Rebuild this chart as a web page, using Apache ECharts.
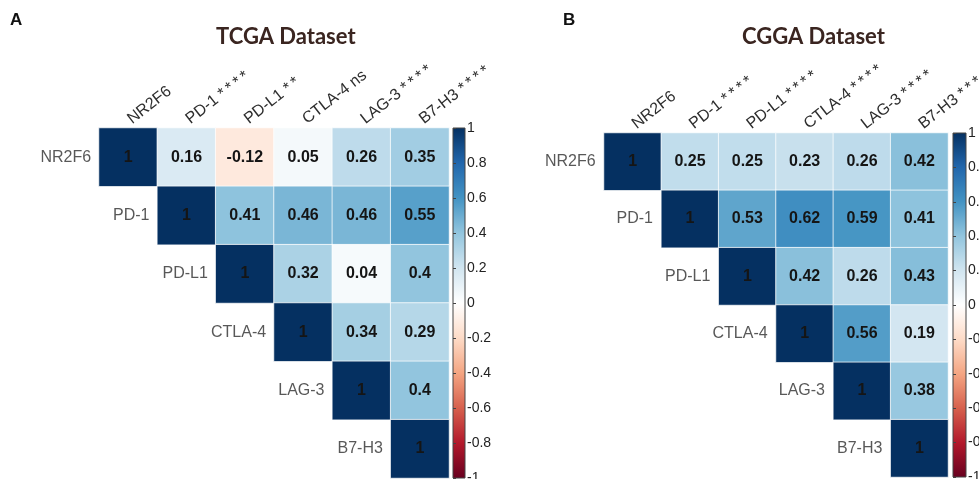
<!DOCTYPE html>
<html><head><meta charset="utf-8">
<script src="https://cdn.jsdelivr.net/npm/echarts@6/dist/echarts.min.js"></script>
<style>html,body{margin:0;padding:0;background:#fff}#c{width:979px;height:479px}</style>
</head><body><div id="c"></div>
<script>
const genes = ['NR2F6','PD-1','PD-L1','CTLA-4','LAG-3','B7-H3'];
const tcgaColLabels = ['NR2F6','PD-1 ****','PD-L1 **','CTLA-4 ns','LAG-3 ****','B7-H3 ****'];
const cggaColLabels = ['NR2F6','PD-1 ****','PD-L1 ****','CTLA-4 ****','LAG-3 ****','B7-H3 ****'];
// upper triangle: row i holds columns i..5
const tcgaRows = [
  [1, 0.16, -0.12, 0.05, 0.26, 0.35],
  [1, 0.41, 0.46, 0.46, 0.55],
  [1, 0.32, 0.04, 0.4],
  [1, 0.34, 0.29],
  [1, 0.4],
  [1]
];
const cggaRows = [
  [1, 0.25, 0.25, 0.23, 0.26, 0.42],
  [1, 0.53, 0.62, 0.59, 0.41],
  [1, 0.42, 0.26, 0.43],
  [1, 0.56, 0.19],
  [1, 0.38],
  [1]
];
const rdbu = ['#67001F','#B2182B','#D6604D','#F4A582','#FDDBC7','#FFFFFF','#D1E5F0','#92C5DE','#4393C3','#2166AC','#053061'];
const scaleMin = -1, scaleMax = 1, scaleStep = 0.2;

function toCells(rows){
  const out = [];
  rows.forEach((r,i)=>r.forEach((v,k)=>out.push([i+k, i, v])));
  return out;
}
const FONT = 'Liberation Sans, Arial, sans-serif';
const gradient = {type:'linear', x:0, y:0, x2:0, y2:1,
  colorStops: rdbu.slice().reverse().map((c,i)=>({offset:i/(rdbu.length-1), color:c}))};

const gridsPos = [
  {left:99, top:128, width:350, height:350},
  {left:604, top:133, width:344, height:344}
];
const barPos = [
  {left:453, top:128, width:12, height:350},
  {left:953, top:133, width:13, height:344}
];
const colLabelSets = [tcgaColLabels, cggaColLabels];
const rowSets = [tcgaRows, cggaRows];
const spaceStars = s => s.replace(/\*+/g, m => m.split('').join('\u2009'));

const option = {
  backgroundColor:'#fff',
  animation:false,
  title:[
    {text:'A', left:10, top:12, padding:0, textStyle:{fontFamily:FONT, fontWeight:'bold', fontSize:17, color:'#111'}},
    {text:'B', left:563, top:12, padding:0, textStyle:{fontFamily:FONT, fontWeight:'bold', fontSize:17, color:'#111'}},
    {text:'TCGA Dataset', left:216, top:26, padding:0, textStyle:{fontFamily:'Lato', fontWeight:'bold', fontSize:22, color:'#3a2520'}},
    {text:'CGGA Dataset', left:742, top:26, padding:0, textStyle:{fontFamily:'Lato', fontWeight:'bold', fontSize:22, color:'#3a2520'}}
  ],
  grid:[
    Object.assign({outerBoundsMode:'none'}, gridsPos[0]),
    Object.assign({outerBoundsMode:'none'}, gridsPos[1]),
    Object.assign({outerBoundsMode:'none', show:true, backgroundColor:gradient, borderColor:'#444', borderWidth:1}, barPos[0]),
    Object.assign({outerBoundsMode:'none', show:true, backgroundColor:gradient, borderColor:'#444', borderWidth:1}, barPos[1])
  ],
  xAxis:[0,1].map(g=>({
    type:'category', gridIndex:g, data:genes, position:'top',
    axisLine:{show:false}, axisTick:{show:false}, splitLine:{show:false},
    axisLabel:{rotate:-38, margin:-4, padding:[0,0,0,8], interval:0, verticalAlign:'bottom', fontFamily:FONT, fontSize:16, color:'#2e2e2e',
      formatter:(v,idx)=>spaceStars(colLabelSets[g][idx])}
  })).concat([2,3].map(g=>({type:'value', gridIndex:g, show:false, min:0, max:1}))),
  yAxis:[0,1].map(g=>({
    type:'category', gridIndex:g, data:genes, inverse:true, show:false
  })).concat([2,3].map(g=>({
    type:'value', gridIndex:g, min:scaleMin, max:scaleMax, interval:scaleStep, position:'right',
    axisLine:{show:false}, splitLine:{show:false},
    axisTick:{show:true, length:3, lineStyle:{color:'#444'}},
    axisLabel:{margin:2, fontFamily:FONT, fontSize:14, color:'#222', showMinLabel:true, showMaxLabel:true, hideOverlap:false}
  }))),
  visualMap:{type:'continuous', show:false, min:scaleMin, max:scaleMax, dimension:2, seriesIndex:[0,1], inRange:{color:rdbu}},
  series:[0,1].map(g=>({
    type:'heatmap', xAxisIndex:g, yAxisIndex:g, data:toCells(rowSets[g]),
    itemStyle:{borderColor:'rgba(255,255,255,0.75)', borderWidth:1},
    label:{show:true, formatter:p=>String(p.value[2]), fontFamily:FONT, fontWeight:'bold', fontSize:16, color:'#151515'},
    emphasis:{disabled:true}, silent:true
  })).concat([0,1].map(g=>({
    type:'scatter', xAxisIndex:g, yAxisIndex:g, symbolSize:0, silent:true,
    data:genes.map((n,i)=>({name:n, value:[i,i]})),
    label:{show:true, position:'left', distance:37, formatter:'{b}', fontFamily:FONT, fontSize:16, color:'#2e2e2e'}
  })))
};
const chart = echarts.init(document.getElementById('c'), null, {renderer:'canvas'});
chart.setOption(option);
</script></body></html>
